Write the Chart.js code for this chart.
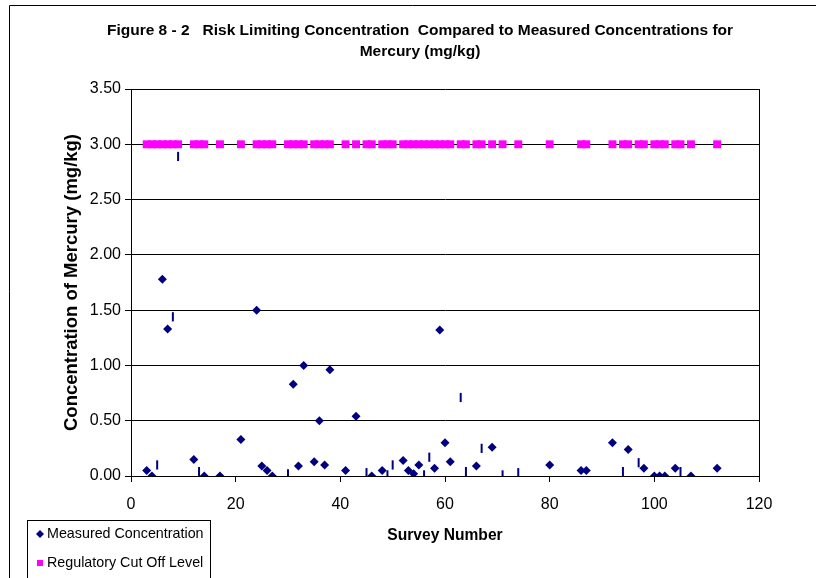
<!DOCTYPE html>
<html><head><meta charset="utf-8">
<script src="https://cdn.jsdelivr.net/npm/chart.js@4.4.1/dist/chart.umd.min.js"></script>
<style>html,body{margin:0;padding:0;background:#fff}#wrap{width:816px;height:578px;position:relative}</style>
</head><body><div id="wrap"><canvas id="c" width="816" height="578"></canvas></div>
<script>
const titleLines = ['Figure 8 - 2   Risk Limiting Concentration  Compared to Measured Concentrations for', 'Mercury (mg/kg)'];
const xTitle = 'Survey Number';
const yTitle = 'Concentration of Mercury (mg/kg)';
const seriesLabels = ['Measured Concentration', 'Regulatory Cut Off Level', 'Other Measurement'];

const measuredSurvey = [3,4,6,7,12,14,17,21,24,25,26,27,31,32,33,35,36,37,38,41,43,46,48,52,53,54,55,58,59,60,61,66,69,80,86,87,92,95,98,100,101,102,104,107,112];
const measuredConc   = [0.05,0,1.78,1.33,0.15,0,0,0.33,1.50,0.09,0.05,0,0.83,0.09,1.00,0.13,0.50,0.10,0.96,0.05,0.54,0,0.05,0.14,0.05,0.02,0.10,0.07,1.32,0.30,0.13,0.09,0.26,0.10,0.05,0.05,0.30,0.24,0.07,0,0,0,0.07,0,0.07];

const otherSurvey = [5,8,9,13,30,45,49,50,56,57,63,64,67,71,74,94,97,105];
const otherConc   = [0.10,1.44,2.89,0.04,0.02,0.03,0.01,0.10,0.01,0.17,0.71,0.04,0.25,0.01,0.03,0.04,0.12,0.04];

const cutoffSurvey = [3,4,5,6,7,8,9,12,13,14,17,21,24,25,26,27,30,31,32,33,35,36,37,38,41,43,45,46,48,49,50,52,53,54,55,56,57,58,59,60,61,63,64,66,67,69,71,74,80,86,87,92,94,95,97,98,100,101,102,104,105,107,112];
const cutoffLevel  = [3,3,3,3,3,3,3,3,3,3,3,3,3,3,3,3,3,3,3,3,3,3,3,3,3,3,3,3,3,3,3,3,3,3,3,3,3,3,3,3,3,3,3,3,3,3,3,3,3,3,3,3,3,3,3,3,3,3,3,3,3,3,3];

const xTicks = [0,20,40,60,80,100,120];
const yTicks = [0,0.5,1,1.5,2,2.5,3,3.5];

const pts = (xs, ys) => xs.map((x, i) => ({x: x, y: ys[i]}));
const FONT = "'Liberation Sans', Arial, sans-serif";
Chart.defaults.font.family = FONT;
Chart.defaults.color = '#000';

const frame = {
  id: 'frame',
  beforeDraw(chart) {
    const ctx = chart.ctx;
    ctx.save();
    ctx.fillStyle = '#fff';
    ctx.fillRect(0, 0, chart.width, chart.height);
    ctx.strokeStyle = '#000';
    ctx.lineWidth = 1;
    ctx.beginPath();
    ctx.moveTo(9.5, 578); ctx.lineTo(9.5, 5.5); ctx.lineTo(816, 5.5);
    ctx.stroke();
    ctx.restore();
  }
};

const legendBox = {
  id: 'legendBox',
  afterDraw(chart) {
    const ctx = chart.ctx;
    const ds = chart.data.datasets;
    ctx.save();
    ctx.fillStyle = '#fff';
    ctx.strokeStyle = '#000';
    ctx.lineWidth = 1;
    ctx.fillRect(27.5, 520.5, 183, 70);
    ctx.strokeRect(27.5, 520.5, 183, 70);
    const rows = [534, 563];
    ctx.font = "14.3px " + FONT;
    ctx.textBaseline = 'middle';
    ctx.textAlign = 'left';
    [0, 1].forEach((k, i) => {
      const d = ds[k];
      const y = rows[i];
      ctx.fillStyle = d.backgroundColor;
      ctx.beginPath();
      if (d.pointStyle === 'rectRot') {
        ctx.moveTo(40, y - 4); ctx.lineTo(44, y); ctx.lineTo(40, y + 4); ctx.lineTo(36, y); ctx.closePath();
      } else {
        ctx.rect(37, y - 3, 6, 6);
      }
      ctx.fill();
      ctx.fillStyle = '#000';
      ctx.fillText(d.label, 47, y + 0.5);
    });
    ctx.restore();
  }
};

new Chart(document.getElementById('c'), {
  type: 'scatter',
  data: {
    datasets: [
      { label: seriesLabels[0], data: pts(measuredSurvey, measuredConc), pointStyle: 'rectRot', radius: 4.5,
        backgroundColor: '#000080', borderColor: '#000080', borderWidth: 0 },
      { label: seriesLabels[1], data: pts(cutoffSurvey, cutoffLevel), pointStyle: 'rect', radius: 5.6,
        backgroundColor: '#FF00FF', borderColor: '#FF00FF', borderWidth: 0 },
      { label: seriesLabels[2], data: pts(otherSurvey, otherConc), pointStyle: 'line', rotation: 90, radius: 4.6,
        backgroundColor: '#000080', borderColor: '#000080', borderWidth: 2 }
    ]
  },
  options: {
    responsive: false,
    animation: false,
    layout: { padding: { left: 24, right: 0, top: 0, bottom: 0 } },
    plugins: {
      legend: { display: false },
      tooltip: { enabled: false },
      title: {
        display: true, text: titleLines, color: '#000',
        font: { size: 15.5, weight: 'bold', lineHeight: 21 / 15.5 },
        padding: { top: 20.5, bottom: 26.5 }
      }
    },
    scales: {
      x: {
        type: 'linear', min: 0, max: 120,
        afterBuildTicks: s => { s.ticks = xTicks.map(v => ({value: v})); },
        afterFit: s => { s.height = 102; },
        ticks: { font: { size: 16 }, padding: 13, color: '#000', maxRotation: 0 },
        grid: { color: c => (c.tick && c.tick.value === 120) ? '#000' : 'rgba(0,0,0,0)', tickColor: '#000', tickLength: 6, lineWidth: 1 },
        border: { color: '#000', width: 1 },
        title: { display: true, text: xTitle, font: { size: 15.6, weight: 'bold' }, padding: { top: 0, bottom: 33 }, color: '#000' }
      },
      y: {
        type: 'linear', min: 0, max: 3.5,
        afterBuildTicks: s => { s.ticks = yTicks.map(v => ({value: v})); },
        afterFit: s => { s.width = 107; },
        ticks: { font: { size: 16 }, padding: 4, color: '#000', callback: v => Number(v).toFixed(2) },
        grid: { color: '#000', tickColor: '#000', tickLength: 6, lineWidth: 1 },
        border: { color: '#000', width: 1 },
        title: { display: true, text: yTitle, font: { size: 18.5, weight: 'bold' }, padding: { top: 37, bottom: 0 }, color: '#000' }
      },
      yR: {
        type: 'linear', position: 'right', min: 0, max: 1,
        afterFit: s => { s.width = 57; },
        ticks: { display: false },
        grid: { display: false, drawTicks: false },
        border: { display: false }
      }
    }
  },
  plugins: [frame, legendBox]
});
</script>
</body></html>
